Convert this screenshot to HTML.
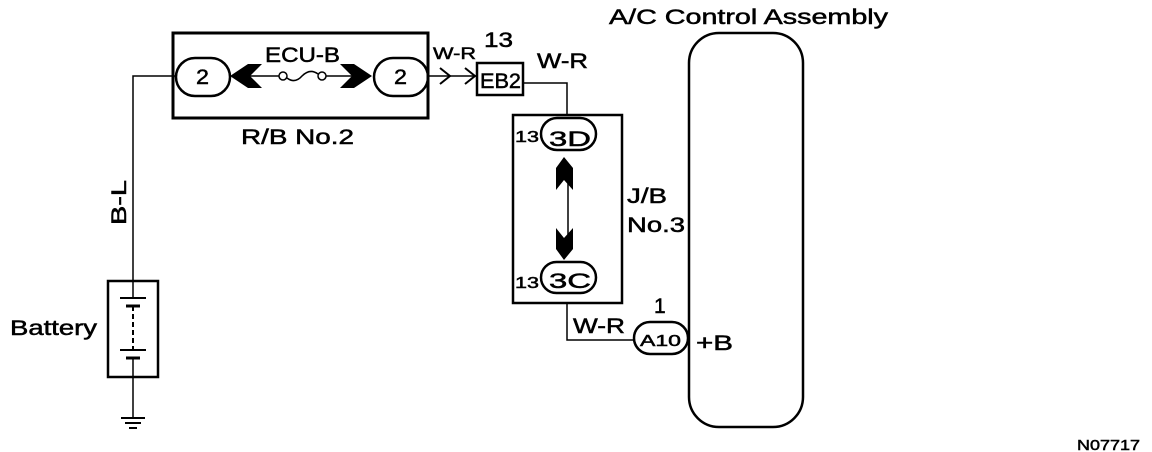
<!DOCTYPE html>
<html><head><meta charset="utf-8"><style>
html,body{margin:0;padding:0;background:#fff;}
svg{display:block;}
text{font-family:"Liberation Sans",Arial,sans-serif;fill:#000;stroke:#000;stroke-width:0.5;}
</style></head><body>
<svg width="1152" height="452" viewBox="0 0 1152 452" xmlns="http://www.w3.org/2000/svg">
<g fill="none" stroke="#000">
 <rect x="173" y="33" width="255" height="85" stroke-width="3"/>
 <rect x="176" y="58" width="54" height="38" rx="19" stroke-width="2.5"/>
 <rect x="374" y="58" width="54" height="38" rx="19" stroke-width="2.5"/>
 <polyline points="176,76 133,76 133,282" stroke-width="1.5"/>
 <line x1="250" y1="76" x2="279" y2="76" stroke-width="1.5"/>
 <line x1="326" y1="76" x2="352" y2="76" stroke-width="1.5"/>
 <circle cx="283" cy="76" r="4" stroke-width="1.5"/>
 <circle cx="322" cy="76" r="4" stroke-width="1.5"/>
 <path d="M287,78 Q295,84 302,76 Q310,68 318,74" stroke-width="1.5"/>
 <line x1="428" y1="76" x2="477" y2="76" stroke-width="1.5"/>
 <polyline points="440,68 450,76 440,84" stroke-width="2"/>
 <polyline points="465,68 475,76 465,84" stroke-width="2"/>
 <rect x="477" y="63" width="46" height="32" stroke-width="2.5"/>
 <polyline points="523,83 567,83 567,114" stroke-width="1.5"/>
 <rect x="513" y="115" width="109" height="188" stroke-width="2.5"/>
 <rect x="541" y="118" width="55" height="32" rx="16" fill="#fff" stroke-width="2.5"/>
 <rect x="541" y="262" width="55" height="31" rx="15.5" fill="#fff" stroke-width="2.5"/>
 <line x1="568" y1="165" x2="568" y2="245" stroke-width="1.5"/>
 <polyline points="567,303 567,340 634,340" stroke-width="1.5"/>
 <rect x="634" y="322" width="54" height="32" rx="16" stroke-width="2.5"/>
 <rect x="689" y="33" width="114" height="394" rx="30" stroke-width="2.5"/>
 <rect x="108" y="281" width="50" height="96" stroke-width="2.5"/>
 <line x1="133" y1="282" x2="133" y2="298" stroke-width="1.5"/>
 <line x1="120" y1="298" x2="146" y2="298" stroke-width="2"/>
 <line x1="126" y1="306" x2="140" y2="306" stroke-width="3"/>
 <line x1="133" y1="306" x2="133" y2="350" stroke-width="2" stroke-dasharray="5,3"/>
 <line x1="120" y1="350" x2="146" y2="350" stroke-width="2"/>
 <line x1="126" y1="358" x2="140" y2="358" stroke-width="3"/>
 <line x1="133" y1="358" x2="133" y2="418" stroke-width="1.5"/>
 <line x1="121" y1="418" x2="145" y2="418" stroke-width="2"/>
 <line x1="125" y1="423" x2="141" y2="423" stroke-width="2"/>
 <line x1="129" y1="428" x2="137" y2="428" stroke-width="2"/>
</g>
<g fill="#000">
 <polygon points="230,76 248,64 262,64 250,76 262,88 248,88"/>
 <polygon points="372,76 354,64 340,64 352,76 340,88 354,88"/>
 <polygon points="564,157 573,168 573,190 564,180 556,190 556,168"/>
 <polygon points="564,260 573,249 573,228 564,238 556,228 556,249"/>
</g>
<g font-size="21" lengthAdjust="spacingAndGlyphs">
 <text x="196" y="84" textLength="13" lengthAdjust="spacingAndGlyphs">2</text>
 <text x="394" y="84" textLength="13" lengthAdjust="spacingAndGlyphs">2</text>
 <text x="265" y="62" textLength="75" lengthAdjust="spacingAndGlyphs">ECU-B</text>
 <text x="241" y="144" textLength="113" lengthAdjust="spacingAndGlyphs">R/B No.2</text>
 <text x="433" y="59" font-size="17" textLength="43" lengthAdjust="spacingAndGlyphs">W-R</text>
 <text x="484" y="47" textLength="29" lengthAdjust="spacingAndGlyphs">13</text>
 <text x="480" y="88" textLength="41" lengthAdjust="spacingAndGlyphs">EB2</text>
 <text x="537" y="68" textLength="51" lengthAdjust="spacingAndGlyphs">W-R</text>
 <text x="549" y="146" textLength="42" lengthAdjust="spacingAndGlyphs">3D</text>
 <text x="549" y="288" textLength="42" lengthAdjust="spacingAndGlyphs">3C</text>
 <text x="515" y="142" font-size="16" textLength="24" lengthAdjust="spacingAndGlyphs">13</text>
 <text x="515" y="288" font-size="16" textLength="24" lengthAdjust="spacingAndGlyphs">13</text>
 <text x="627" y="203" textLength="40" lengthAdjust="spacingAndGlyphs">J/B</text>
 <text x="627" y="232" textLength="58" lengthAdjust="spacingAndGlyphs">No.3</text>
 <text x="573" y="333" textLength="52" lengthAdjust="spacingAndGlyphs">W-R</text>
 <text x="640" y="346" font-size="16" textLength="41" lengthAdjust="spacingAndGlyphs">A10</text>
 <text x="654" y="313">1</text>
 <text x="696" y="350" textLength="37" lengthAdjust="spacingAndGlyphs">+B</text>
 <text x="609" y="24" textLength="279" lengthAdjust="spacingAndGlyphs">A/C Control Assembly</text>
 <text x="10" y="335" textLength="87" lengthAdjust="spacingAndGlyphs">Battery</text>
 <text x="0" y="0" transform="translate(126,225) rotate(-90)" textLength="45" lengthAdjust="spacingAndGlyphs">B-L</text>
 <text x="1077" y="450" font-size="15" stroke-width="0.2" textLength="63" lengthAdjust="spacingAndGlyphs">N07717</text>
</g>
</svg>
</body></html>
